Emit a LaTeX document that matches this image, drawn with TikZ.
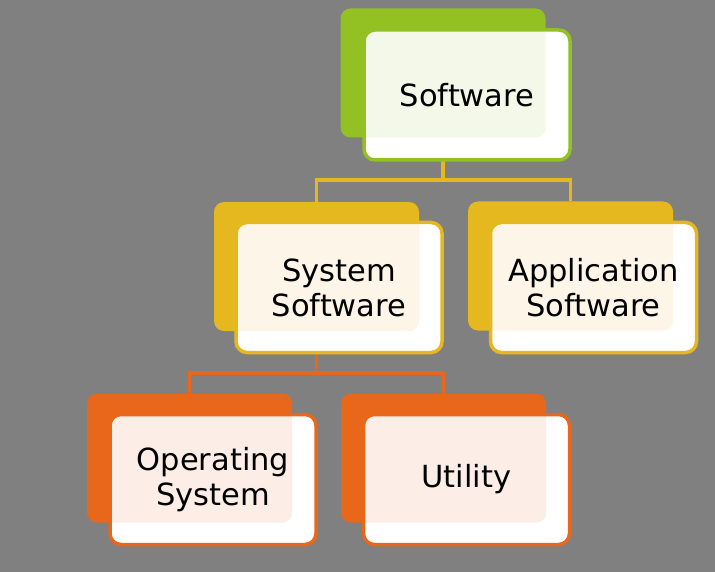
\documentclass[tikz,border=0pt]{standalone}
\usepackage{fontspec}
\setmainfont{DejaVu Sans}
\definecolor{bggray}{HTML}{808080}
\definecolor{cgreen}{HTML}{93C022}
\definecolor{tgreen}{HTML}{F4F8E9}
\definecolor{cgold}{HTML}{E6B81F}
\definecolor{tgold}{HTML}{FDF6E8}
\definecolor{corange}{HTML}{E8671A}
\definecolor{torange}{HTML}{FCEEE6}
\tikzset{
  backbox/.style={fill=#1, rounded corners=10pt, minimum width=205pt, minimum height=129pt, inner sep=0pt},
  frontbox/.style n args={3}{fill=white, draw=#1, line width=3.5pt, rounded corners=11pt,
     minimum width=206pt, minimum height=130pt, inner sep=0pt, align=center,
     font=\fontsize{30.5}{35}\selectfont, text=black,
     path picture={\fill[#2, rounded corners=10pt] (#3.south west) rectangle (#3.north east);}},
  conn/.style={draw=#1, line width=3.5pt, line join=miter}
}
\begin{document}
\begin{tikzpicture}[x=1pt,y=-1pt]
\fill[bggray] (0,0) rectangle (715,572);
\useasboundingbox (0,0) rectangle (715,572);
% back boxes
\node[backbox=cgreen] (swB) at (443,73) {};
\node[backbox=cgold] (ssB) at (316.5,266.5) {};
\node[backbox=cgold] (asB) at (570.5,266) {};
\node[backbox=corange] (osB) at (189.5,458) {};
\node[backbox=corange] (utB) at (443.5,458) {};
% junctions
\coordinate (j1) at (443,180);
\coordinate (j2) at (316.5,373);
% connectors
\draw[conn=cgold] (swB.south) -- (j1) -| (ssB.north);
\draw[conn=cgold] (j1) -| (asB.north);
\draw[conn=corange] (ssB.south) -- (j2) -| (osB.north);
\draw[conn=corange] (j2) -| (utB.north);
% front boxes
\node[frontbox={cgreen}{tgreen}{swB}] (sw) at (467,95) {Software};
\node[frontbox={cgold}{tgold}{ssB}] (ss) at (339,287.5) {System\\Software};
\node[frontbox={cgold}{tgold}{asB}] (as) at (593.5,287.5) {Application\\Software};
\node[frontbox={corange}{torange}{osB}] (os) at (213,479.5) {Operating\\System};
\node[frontbox={corange}{torange}{utB}] (ut) at (466.5,479.5) {Utility};
\end{tikzpicture}
\end{document}
